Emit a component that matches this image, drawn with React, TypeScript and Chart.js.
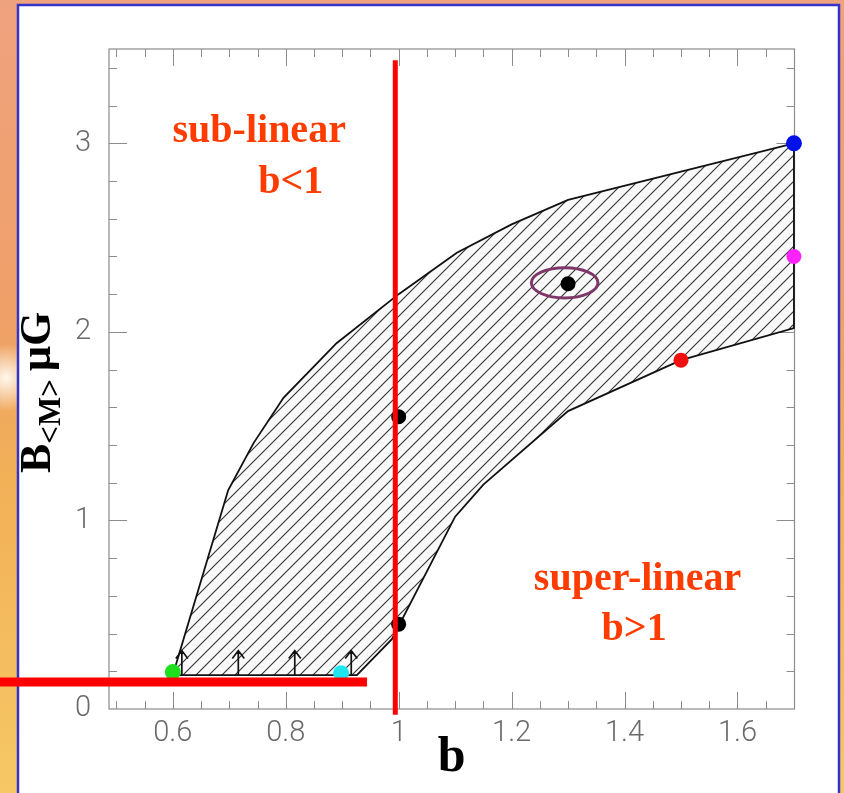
import React, { useEffect, useRef } from "react";
import { Chart, registerables } from "chart.js";

Chart.register(...registerables);

// ---- axes ----
const X_MIN = 0.487;
const X_MAX = 1.701;
const Y_MIN = 0;
const Y_MAX = 3.5;
const xTickValues = [0.6, 0.8, 1, 1.2, 1.4, 1.6];
const xTickLabels = ["0.6", "0.8", "1", "1.2", "1.4", "1.6"];
const yTickValues = [0, 1, 2, 3];
const yTickLabels = ["0", "1", "2", "3"];
const xMinorStep = 0.05;
const yMinorStep = 0.2;

// ---- hatched allowed region (upper edge left->right, lower edge right->left) ----
const upperEdgeX = [0.6, 0.698, 0.743, 0.796, 0.89, 1.0, 1.103, 1.2, 1.3, 1.7];
const upperEdgeY = [0.18, 1.16, 1.41, 1.65, 1.94, 2.2, 2.42, 2.57, 2.7, 3.0];
const lowerEdgeX = [1.7, 1.5, 1.3, 1.15, 1.1, 0.988, 0.926, 0.6];
const lowerEdgeY = [2.02, 1.85, 1.58, 1.19, 1.02, 0.37, 0.18, 0.18];

// ---- individual sources ----
const blackX = [1.0, 1.0, 1.3];
const blackY = [1.55, 0.45, 2.255];
const greenPt = [0.6, 0.196];
const cyanPt = [0.898, 0.19];
const bluePt = [1.7, 3.0];
const magentaPt = [1.7, 2.4];
const redPt = [1.5, 1.85];

// ---- lower-limit arrows ----
const arrowX = [0.616, 0.716, 0.816, 0.916];
const arrowBaseY = 0.18;
const arrowTopY = 0.31;

// ---- red dividing lines ----
const vLineX = 0.994;
const vLineY = [-0.03, 3.44];
const hLineY = 0.143;
const hLineX = [0.28, 0.944];

// ---- highlighted point ellipse ----
const ellipseCenter = [1.294, 2.26];
const ellipseRadii = [0.059, 0.08];

// ---- annotations ----
const notes = [
  { text: "sub-linear", x: 0.753, y: 3.008 },
  { text: "b<1", x: 0.809, y: 2.737 },
  { text: "super-linear", x: 1.423, y: 0.631 },
  { text: "b>1", x: 1.417, y: 0.366 },
];

const SERIF = "'Liberation Serif', 'Times New Roman', serif";

function makeHatch(): CanvasPattern | string {
  const s = 13;
  const c = document.createElement("canvas");
  c.width = s;
  c.height = s;
  const g = c.getContext("2d");
  if (!g) return "#fff";
  g.fillStyle = "#f9f9f9";
  g.fillRect(0, 0, s, s);
  g.strokeStyle = "#333333";
  g.lineWidth = 1.1;
  g.beginPath();
  g.moveTo(-1, s + 1);
  g.lineTo(s + 1, -1);
  g.moveTo(-1, 1);
  g.lineTo(1, -1);
  g.moveTo(s - 1, s + 1);
  g.lineTo(s + 1, s - 1);
  g.stroke();
  return g.createPattern(c, "repeat") || "#fff";
}

const bgPlugin = {
  id: "bg",
  beforeDraw(chart: any) {
    const { ctx, width, height } = chart;
    ctx.save();
    const g = ctx.createLinearGradient(0, 0, 0, height);
    g.addColorStop(0, "#EFA27E");
    g.addColorStop(0.4, "#EFA068");
    g.addColorStop(0.6, "#F2B057");
    g.addColorStop(1, "#F6C765");
    ctx.fillStyle = g;
    ctx.fillRect(0, 0, width, height);
    const r = ctx.createRadialGradient(6, 378, 0, 6, 378, 34);
    r.addColorStop(0, "rgba(255,252,245,0.95)");
    r.addColorStop(1, "rgba(255,252,245,0)");
    ctx.fillStyle = r;
    ctx.fillRect(0, 330, 18, 100);
    ctx.fillStyle = "#ffffff";
    ctx.fillRect(18, 5, 821, height);
    ctx.strokeStyle = "#3434C8";
    ctx.lineWidth = 2.5;
    ctx.strokeRect(18, 5, 821, height + 20);
    ctx.restore();
  },
};

const framePlugin = {
  id: "frame",
  beforeDatasetsDraw(chart: any) {
    const { ctx, chartArea: a, scales } = chart;
    const x = scales.x;
    const y = scales.y;
    ctx.save();
    ctx.strokeStyle = "#8c8c8c";
    ctx.lineWidth = 1.2;
    ctx.strokeRect(a.left, a.top, a.right - a.left, a.bottom - a.top);
    ctx.lineWidth = 1;
    ctx.beginPath();
    const x0 = Math.ceil(X_MIN / xMinorStep - 1e-9);
    const x1 = Math.floor(X_MAX / xMinorStep + 1e-9);
    for (let i = x0; i <= x1; i++) {
      const v = Math.round(i * xMinorStep * 1000) / 1000;
      const px = Math.round(x.getPixelForValue(v)) + 0.5;
      if (px > a.right - 2 || px < a.left + 2) continue;
      const major = xTickValues.some((t) => Math.abs(t - v) < 1e-6);
      const len = major ? 17 : 8;
      ctx.moveTo(px, a.bottom);
      ctx.lineTo(px, a.bottom - len);
      ctx.moveTo(px, a.top);
      ctx.lineTo(px, a.top + len);
    }
    const y0 = Math.ceil(Y_MIN / yMinorStep - 1e-9);
    const y1 = Math.floor(Y_MAX / yMinorStep + 1e-9);
    for (let i = y0; i <= y1; i++) {
      const v = Math.round(i * yMinorStep * 1000) / 1000;
      const py = Math.round(y.getPixelForValue(v)) + 0.5;
      if (py > a.bottom - 2 || py < a.top + 2) continue;
      const major = yTickValues.some((t) => Math.abs(t - v) < 1e-6);
      const len = major ? 18 : 8;
      ctx.moveTo(a.left, py);
      ctx.lineTo(a.left + len, py);
      ctx.moveTo(a.right, py);
      ctx.lineTo(a.right - len, py);
    }
    ctx.stroke();
    ctx.restore();
  },
};

const overlayPlugin = {
  id: "overlay",
  afterDatasetsDraw(chart: any) {
    const { ctx, scales } = chart;
    const x = scales.x;
    const y = scales.y;
    ctx.save();
    // lower-limit arrows
    ctx.strokeStyle = "#111";
    ctx.lineWidth = 1.7;
    const yb = y.getPixelForValue(arrowBaseY);
    const yt = y.getPixelForValue(arrowTopY);
    ctx.beginPath();
    for (const ax of arrowX) {
      const px = x.getPixelForValue(ax);
      ctx.moveTo(px, yb);
      ctx.lineTo(px, yt);
      ctx.moveTo(px - 6, yt + 8);
      ctx.lineTo(px, yt);
      ctx.lineTo(px + 6, yt + 8);
    }
    ctx.stroke();
    // ellipse
    const cx = x.getPixelForValue(ellipseCenter[0]);
    const cy = y.getPixelForValue(ellipseCenter[1]);
    const rx = Math.abs(x.getPixelForValue(ellipseCenter[0] + ellipseRadii[0]) - cx);
    const ry = Math.abs(y.getPixelForValue(ellipseCenter[1] + ellipseRadii[1]) - cy);
    ctx.strokeStyle = "#7F3668";
    ctx.lineWidth = 3;
    ctx.beginPath();
    ctx.ellipse(cx, cy, rx, ry, 0, 0, Math.PI * 2);
    ctx.stroke();
    // annotations
    ctx.fillStyle = "#FF3C00";
    ctx.font = `bold 40px ${SERIF}`;
    ctx.textAlign = "center";
    ctx.textBaseline = "alphabetic";
    for (const n of notes) {
      ctx.fillText(n.text, x.getPixelForValue(n.x), y.getPixelForValue(n.y));
    }
    ctx.restore();
  },
  afterDraw(chart: any) {
    const { ctx } = chart;
    ctx.save();
    ctx.translate(50, 473);
    ctx.rotate(-Math.PI / 2);
    ctx.fillStyle = "#000";
    ctx.textBaseline = "alphabetic";
    ctx.textAlign = "left";
    ctx.font = `bold 44px ${SERIF}`;
    ctx.fillText("B", 0, 0);
    let w = ctx.measureText("B").width;
    ctx.font = `bold 31px ${SERIF}`;
    ctx.fillText("<M>", w, 10);
    w += ctx.measureText("<M>").width + 8;
    ctx.font = `bold 44px ${SERIF}`;
    ctx.fillText("\u03BCG", w, 0);
    ctx.restore();
  },
};

const pt = (p: number[]) => [{ x: p[0], y: p[1] }];

export default function App() {
  const ref = useRef<HTMLCanvasElement>(null);
  useEffect(() => {
    const canvas = ref.current;
    if (!canvas) return;
    const hatch = makeHatch();
    const polygon = [
      ...upperEdgeX.map((v, i) => ({ x: v, y: upperEdgeY[i] })),
      ...lowerEdgeX.map((v, i) => ({ x: v, y: lowerEdgeY[i] })),
    ];
    const dot = (data: any, color: string, r: number) => ({
      data,
      pointRadius: r,
      pointBackgroundColor: color,
      pointBorderWidth: 0,
      showLine: false,
      clip: false as any,
    });
    const chart = new Chart(canvas, {
      type: "scatter",
      data: {
        datasets: [
          {
            data: [
              { x: vLineX, y: vLineY[0] },
              { x: vLineX, y: vLineY[1] },
            ],
            showLine: true,
            borderColor: "#FF0000",
            borderWidth: 5,
            pointRadius: 0,
            clip: false as any,
          },
          {
            data: [
              { x: hLineX[0], y: hLineY },
              { x: hLineX[1], y: hLineY },
            ],
            showLine: true,
            borderColor: "#FF0000",
            borderWidth: 9,
            pointRadius: 0,
            clip: false as any,
          },
          dot(blackX.map((v, i) => ({ x: v, y: blackY[i] })), "#000000", 7.5),
          dot(pt(greenPt), "#1EE01E", 8),
          dot(pt(cyanPt), "#20E6F0", 8),
          dot(pt(bluePt), "#0010E8", 8),
          dot(pt(magentaPt), "#FF22FF", 7.5),
          dot(pt(redPt), "#F01010", 7.5),
          {
            data: polygon,
            showLine: true,
            fill: "shape",
            backgroundColor: hatch as any,
            borderColor: "#111111",
            borderWidth: 1.8,
            pointRadius: 0,
            tension: 0,
            clip: false as any,
          },
        ] as any,
      },
      options: {
        responsive: false,
        animation: false,
        devicePixelRatio: 1,
        events: [],
        layout: { padding: { left: 59, top: 49, right: 49.5, bottom: 0 } },
        plugins: { legend: { display: false }, tooltip: { enabled: false } },
        scales: {
          x: {
            type: "linear",
            min: X_MIN,
            max: X_MAX,
            grid: { display: false, drawTicks: false },
            border: { display: false },
            afterBuildTicks: (s: any) => {
              s.ticks = xTickValues.map((v) => ({ value: v }));
            },
            afterFit: (s: any) => {
              s.height = 84;
            },
            ticks: {
              padding: 7,
              autoSkip: false,
              maxRotation: 0,
              color: "#6a6a6a",
              font: { family: "Roboto, 'DejaVu Sans', sans-serif", size: 29, weight: "300" as any },
              callback: (v: any) => {
                const i = xTickValues.findIndex((t) => Math.abs(t - v) < 1e-6);
                return i >= 0 ? xTickLabels[i] : "";
              },
            },
            title: {
              display: true,
              text: "b",
              color: "#000",
              font: { family: SERIF, size: 50, weight: "bold" },
              padding: { top: 0, bottom: 5 },
            },
          },
          y: {
            type: "linear",
            min: Y_MIN,
            max: Y_MAX,
            grid: { display: false, drawTicks: false },
            border: { display: false },
            afterBuildTicks: (s: any) => {
              s.ticks = yTickValues.map((v) => ({ value: v }));
            },
            afterFit: (s: any) => {
              s.width = 50;
            },
            ticks: {
              padding: 18,
              autoSkip: false,
              color: "#6a6a6a",
              font: { family: "Roboto, 'DejaVu Sans', sans-serif", size: 29, weight: "300" as any },
              callback: (v: any) => {
                const i = yTickValues.findIndex((t) => Math.abs(t - v) < 1e-6);
                return i >= 0 ? yTickLabels[i] : "";
              },
            },
          },
        },
      } as any,
      plugins: [bgPlugin, framePlugin, overlayPlugin],
    });
    return () => chart.destroy();
  }, []);
  return (
    <div style={{ position: "fixed", left: 0, top: 0, width: 844, height: 793, overflow: "hidden" }}>
      <canvas ref={ref} width={844} height={793} style={{ display: "block", width: 844, height: 793 }} />
    </div>
  );
}
